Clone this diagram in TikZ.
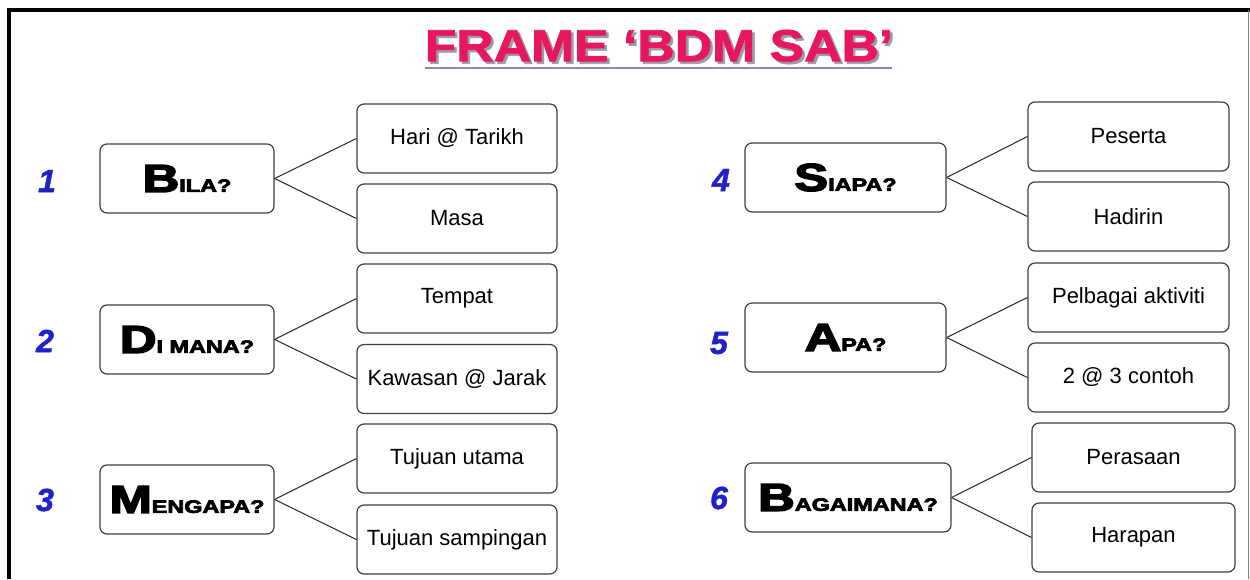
\documentclass[tikz,border=0pt]{standalone}
\usepackage{fontspec}
\setmainfont{Liberation Sans}
\newfontfamily\heavy[FakeBold=3.5]{Liberation Sans}
\newfontfamily\titlefnt[FakeBold=1.5]{Liberation Sans}
\newfontfamily\numfnt[FakeBold=1.5]{Liberation Sans}
\definecolor{numblue}{HTML}{1E22C8}
\definecolor{titlepink}{HTML}{E8175D}
\definecolor{shadowgray}{HTML}{9A9AA8}
\definecolor{ulinecol}{HTML}{7F8FB0}
\newcommand\mlabel[2]{\scalebox{1.3}[1]{\heavy\bfseries{\fontsize{39}{40}\selectfont #1}{\fontsize{18}{20}\selectfont #2}}}
\newcommand\ttltext{\scalebox{1.15}[1]{FRAME ‘BDM SAB’}}
\begin{document}
\begin{tikzpicture}[x=1pt,y=-1pt,
  box/.style={draw=black!75, line width=1.2pt, rounded corners=7pt, fill=white, inner sep=0pt, minimum height=69pt},
  mainbox/.style={box, minimum width=174pt},
  mainboxr/.style={box, minimum width=201pt},
  subbox/.style={box, minimum width=200pt, font=\fontsize{22}{24}\selectfont},
  num/.style={text=numblue, inner sep=0pt, font=\fontsize{32}{34}\numfnt\bfseries\itshape},
  link/.style={draw=black!85, line width=1pt},
  ttl/.style={inner sep=0pt, font=\fontsize{45}{48}\titlefnt\bfseries}]
\path[use as bounding box, fill=white] (0,0) rectangle (1250,579);
% frame
\draw[line width=4pt] (9,579) -- (9,10) -- (1250,10);
\draw[gray, line width=1.2pt] (1248.5,10) -- (1248.5,579);
% title with shadow
\node[ttl] (title) at (659,47) {\makebox[0pt][l]{\hspace{2.5pt}\raisebox{-2.5pt}{\color{shadowgray}\ttltext}}\color{titlepink}\ttltext};
\draw[ulinecol, line width=1.6pt] (425,68) -- (892,68);
% left column
\node[mainbox] (bila) at (187,178.5) {\mlabel{B}{ILA?}};
\node[subbox] (b1) at (457,138.5) {Hari @ Tarikh};
\node[subbox] (b2) at (457,218.5) {Masa};
\node[mainbox] (dimana) at (187,339.5) {\mlabel{D}{I MANA?}};
\node[subbox] (d1) at (457,298.5) {Tempat};
\node[subbox] (d2) at (457,379) {Kawasan @ Jarak};
\node[mainbox] (mengapa) at (187,499.5) {\mlabel{M}{ENGAPA?}};
\node[subbox] (m1) at (457,458.5) {Tujuan utama};
\node[subbox] (m2) at (457,539.5) {Tujuan sampingan};
% right column
\node[mainboxr] (siapa) at (845.5,177.5) {\mlabel{S}{IAPA?}};
\node[subbox, minimum width=201pt] (s1) at (1128.5,136.5) {Peserta};
\node[subbox, minimum width=201pt] (s2) at (1128.5,216.5) {Hadirin};
\node[mainboxr] (apa) at (845.5,337.5) {\mlabel{A}{PA?}};
\node[subbox, minimum width=201pt] (a1) at (1128.5,297.5) {Pelbagai aktiviti};
\node[subbox, minimum width=201pt] (a2) at (1128.5,377.5) {2 @ 3 contoh};
\node[box, minimum width=206pt] (bagaimana) at (848,497.5) {\mlabel{B}{AGAIMANA?}};
\node[subbox, minimum width=203pt] (g1) at (1133.5,457.5) {Perasaan};
\node[subbox, minimum width=203pt] (g2) at (1133.5,537.5) {Harapan};
% connectors
\foreach \m/\a/\b in {bila/b1/b2, dimana/d1/d2, mengapa/m1/m2, siapa/s1/s2, apa/a1/a2, bagaimana/g1/g2}{
  \draw[link] (\m.east) -- (\a.west);
  \draw[link] (\m.east) -- (\b.west);
}
% numbers
\node[num] (n1) at (47,181) {1};
\node[num] (n2) at (45,341) {2};
\node[num] (n3) at (45,500) {3};
\node[num] (n4) at (721,180) {4};
\node[num] (n5) at (719,343) {5};
\node[num] (n6) at (719,498) {6};
\end{tikzpicture}
\end{document}
